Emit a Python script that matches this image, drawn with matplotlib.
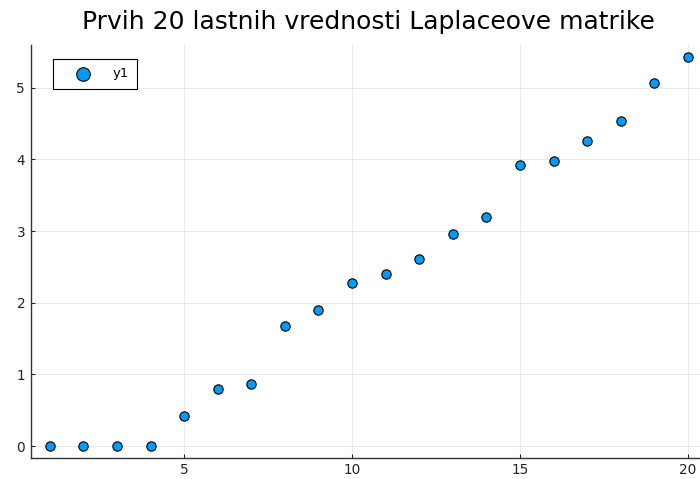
import matplotlib.pyplot as plt
import numpy as np

# Eigenvalues
idx = np.arange(1, 21)
eigvals = [0.0, 0.0, 0.0, 0.0, 0.42, 0.80, 0.86, 1.68, 1.90, 2.28,
           2.40, 2.61, 2.96, 3.20, 3.92, 3.98, 4.26, 4.53, 5.07, 5.43]

title = "Prvih 20 lastnih vrednosti Laplaceove matrike"
series_label = "y1"

fig = plt.figure(figsize=(7, 4.79), dpi=100)
ax = fig.add_axes([30.7 / 700, 1 - 457.7 / 479, (707 - 30.7) / 700, (457.7 - 45.3) / 479])

ax.scatter(idx, eigvals, s=45, color="#009afa", edgecolors="black",
           linewidths=0.8, label=series_label, zorder=3)

# Plots.jl-like margins
ax.set_xlim(0.43, 20.57)
ax.set_ylim(-0.163, 5.593)
ax.set_xticks([5, 10, 15, 20])
ax.set_yticks([0, 1, 2, 3, 4, 5])

ax.grid(True, color="black", alpha=0.1, linewidth=0.6)
ax.set_axisbelow(True)
for side in ("top", "right"):
    ax.spines[side].set_visible(False)
for side in ("left", "bottom"):
    ax.spines[side].set_color("#333333")
    ax.spines[side].set_linewidth(1.0)
ax.tick_params(direction="in", length=3, width=0.8, labelsize=9.8,
               colors="#222222", pad=4)

ax.set_title(title, fontsize=18, pad=12)

leg = ax.legend(loc="upper left", fancybox=False, framealpha=1,
                edgecolor="black", fontsize=9.5, borderpad=0.65,
                handlelength=3.2, handletextpad=0.65, markerscale=1.45,
                borderaxespad=0, bbox_to_anchor=(0.033, 0.967))
leg.get_frame().set_linewidth(0.8)

fig.savefig("out.png", dpi=100)
